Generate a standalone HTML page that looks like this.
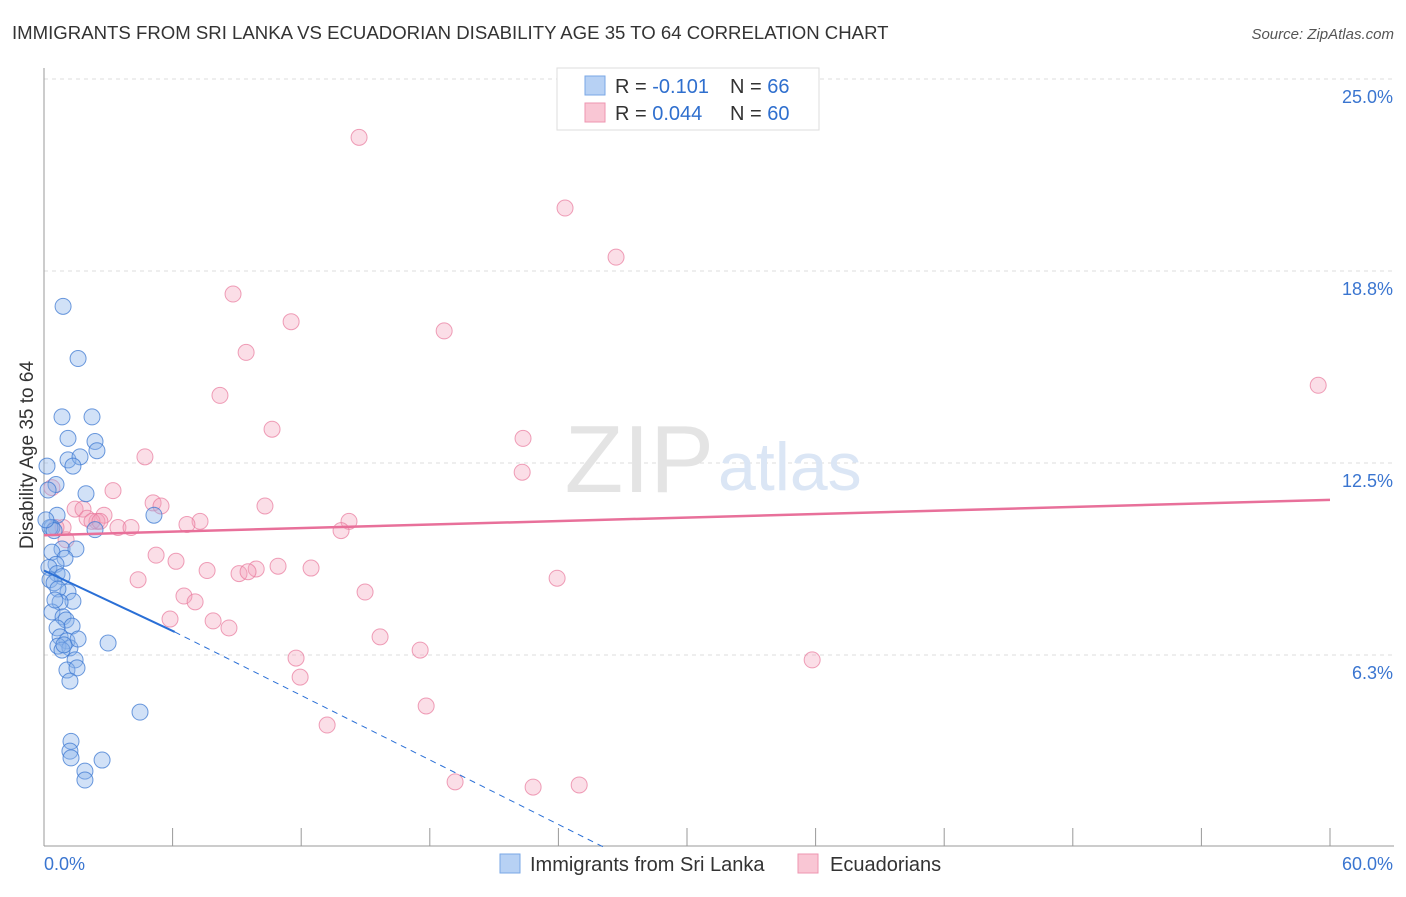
<!DOCTYPE html>
<html><head><meta charset="utf-8"><style>
body{margin:0;background:#fff;font-family:"Liberation Sans",sans-serif;}
svg text{font-family:"Liberation Sans",sans-serif;}
</style></head><body>
<svg id="chart" width="1406" height="892">
<text x="12" y="39" font-size="18.6" fill="#333">IMMIGRANTS FROM SRI LANKA VS ECUADORIAN DISABILITY AGE 35 TO 64 CORRELATION CHART</text>
<text x="1394" y="39" font-size="15" fill="#555" font-style="italic" text-anchor="end">Source: ZipAtlas.com</text>
<text x="33" y="455" font-size="19" fill="#333" text-anchor="middle" transform="rotate(-90 33 455)">Disability Age 35 to 64</text>
<g id="grid"></g>
<text x="714" y="492" font-size="96" fill="#e4e4e4" text-anchor="end" font-family="Liberation Serif">ZIP</text>
<text x="718" y="490" font-size="68" fill="#dbe6f5">atlas</text>
<g id="axes"></g>
<g id="pts"></g>
<g id="trend"></g>
<g>
<rect x="557" y="68" width="262" height="62" fill="#fff" stroke="#ddd"/>
<rect x="585" y="76" width="20" height="19" fill="#b7d1f4" stroke="#7aa7e6"/>
<rect x="585" y="103" width="20" height="19" fill="#f9c6d4" stroke="#ee95b0"/>
<text x="615" y="93" font-size="20" fill="#333">R = <tspan fill="#2f6fce">-0.101</tspan></text>
<text x="730" y="93" font-size="20" fill="#333">N = <tspan fill="#2f6fce">66</tspan></text>
<text x="615" y="120" font-size="20" fill="#333">R = <tspan fill="#2f6fce">0.044</tspan></text>
<text x="730" y="120" font-size="20" fill="#333">N = <tspan fill="#2f6fce">60</tspan></text>
</g>
<g>
<rect x="500" y="854" width="20" height="19" fill="#b7d1f4" stroke="#7aa7e6"/>
<text x="530" y="871" font-size="20" fill="#333">Immigrants from Sri Lanka</text>
<rect x="798" y="854" width="20" height="19" fill="#f9c6d4" stroke="#ee95b0"/>
<text x="830" y="871" font-size="20" fill="#333">Ecuadorians</text>
</g>
</svg>
<script>
const yTicks=[6.25,12.5,18.75,25];
const yTickLabels=["6.3%","12.5%","18.8%","25.0%"];
const xLabels=["0.0%","60.0%"];
const blueX=[0.89,1.59,0.84,2.24,1.12,2.38,2.47,1.12,1.68,1.35,0.14,1.96,0.56,5.13,0.61,0.37,0.28,0.47,0.84,1.49,0.37,0.98,0.56,0.23,0.61,0.84,0.28,0.47,1.12,0.65,1.35,0.75,0.37,0.89,1.03,1.31,0.61,0.75,1.07,2.99,0.65,1.21,0.84,1.45,1.07,1.54,1.21,4.48,1.26,1.21,1.26,2.71,1.91,1.91,0.19,0.09,0.51,1.59,0.93,2.38];
const blueY=[17.6,15.9,14.0,14.0,13.3,13.2,12.9,12.6,12.7,12.4,12.4,11.5,11.8,10.8,10.8,10.4,10.4,10.3,9.7,9.7,9.6,9.4,9.2,9.1,8.9,8.8,8.7,8.6,8.3,8.4,8.0,7.97,7.65,7.49,7.39,7.19,7.13,6.84,6.71,6.64,6.54,6.48,6.41,6.09,5.76,5.83,5.40,4.39,3.44,3.12,2.90,2.83,2.47,2.18,11.62,10.65,8.04,6.77,6.58,10.33];
const pinkX=[14.70,24.31,26.69,8.82,11.53,18.67,9.43,8.21,10.64,22.35,4.71,22.31,3.22,0.37,5.09,5.46,10.31,1.45,1.82,7.28,14.23,0.89,0.56,2.01,2.80,2.47,3.45,4.06,6.67,13.86,2.24,1.03,5.23,6.16,7.61,9.10,9.90,10.92,12.46,4.39,23.94,14.98,6.53,7.05,5.88,7.89,8.63,15.68,17.55,11.76,35.84,11.95,17.83,13.21,19.18,22.82,24.97,59.45,9.52,2.61];
const pinkY=[23.1,20.8,19.2,18.0,17.1,16.8,16.1,14.7,13.6,13.3,12.7,12.2,11.6,11.7,11.2,11.1,11.1,11.0,11.0,10.6,10.6,10.4,10.4,10.7,10.8,10.6,10.4,10.4,10.5,10.3,10.6,10.0,9.5,9.3,9.0,8.9,9.05,9.14,9.08,8.7,8.75,8.3,8.17,7.98,7.42,7.36,7.13,6.84,6.41,6.15,6.09,5.53,4.59,3.97,2.12,1.95,2.02,15.03,8.96,10.6];
const blueTrend=[[0,9.0],[6.1,7.0],[26.1,0]];
const pinkTrend=[[0,10.15],[60,11.3]];
const X=v=>44+v*(1286/60);
const Y=v=>847-v*30.72;
const NS="http://www.w3.org/2000/svg";
function mk(t,a,p){const e=document.createElementNS(NS,t);for(const k in a)e.setAttribute(k,a[k]);p.appendChild(e);return e;}
const grid=document.getElementById('grid'),axes=document.getElementById('axes'),pts=document.getElementById('pts'),tr=document.getElementById('trend');
yTicks.forEach((t,i)=>{
 const l=mk('line',{x1:44,x2:1394,y1:Y(t),y2:Y(t),stroke:'#ddd','stroke-dasharray':'4,4'},grid);
 
 
 const tx=mk('text',{x:1393,y:Y(t)+24,'font-size':18,fill:'#3a75d0','text-anchor':'end'},grid);
 tx.textContent=yTickLabels[i];
 
 
});
const topGrid=mk('line',{x1:44,x2:1394,y1:79,y2:79,stroke:'#ddd','stroke-dasharray':'4,4'},grid);


mk('line',{x1:44,x2:44,y1:68,y2:846,stroke:'#999'},axes);
mk('line',{x1:44,x2:1394,y1:846,y2:846,stroke:'#999'},axes);
for(let i=0;i<=10;i++){mk('line',{x1:X(i*6),x2:X(i*6),y1:828,y2:846,stroke:'#999'},axes);}
const xl0=mk('text',{x:44,y:870,'font-size':18,fill:'#3a75d0'},axes);xl0.textContent=xLabels[0];


const xl1=mk('text',{x:1393,y:870,'font-size':18,fill:'#3a75d0','text-anchor':'end'},axes);xl1.textContent=xLabels[1];


pinkX.forEach((x,i)=>{
 const c=mk('circle',{cx:X(x),cy:Y(pinkY[i]),r:8,fill:'rgba(244,160,185,0.35)',stroke:'rgba(232,120,155,0.7)'},pts);
 
 
});
blueX.forEach((x,i)=>{
 const c=mk('circle',{cx:X(x),cy:Y(blueY[i]),r:8,fill:'rgba(140,180,235,0.4)',stroke:'rgba(60,120,210,0.75)'},pts);
 
 
});
const b1=mk('line',{x1:X(blueTrend[0][0]),y1:Y(blueTrend[0][1]),x2:X(blueTrend[1][0]),y2:Y(blueTrend[1][1]),stroke:'#2a6fd6','stroke-width':2},tr);


const b2=mk('line',{x1:X(blueTrend[1][0]),y1:Y(blueTrend[1][1]),x2:X(blueTrend[2][0]),y2:Y(blueTrend[2][1]),stroke:'#2a6fd6','stroke-width':1,'stroke-dasharray':'6,5'},tr);


const p1=mk('line',{x1:X(pinkTrend[0][0]),y1:Y(pinkTrend[0][1]),x2:X(pinkTrend[1][0]),y2:Y(pinkTrend[1][1]),stroke:'#e8709a','stroke-width':2.5},tr);


</script>
</body></html>
